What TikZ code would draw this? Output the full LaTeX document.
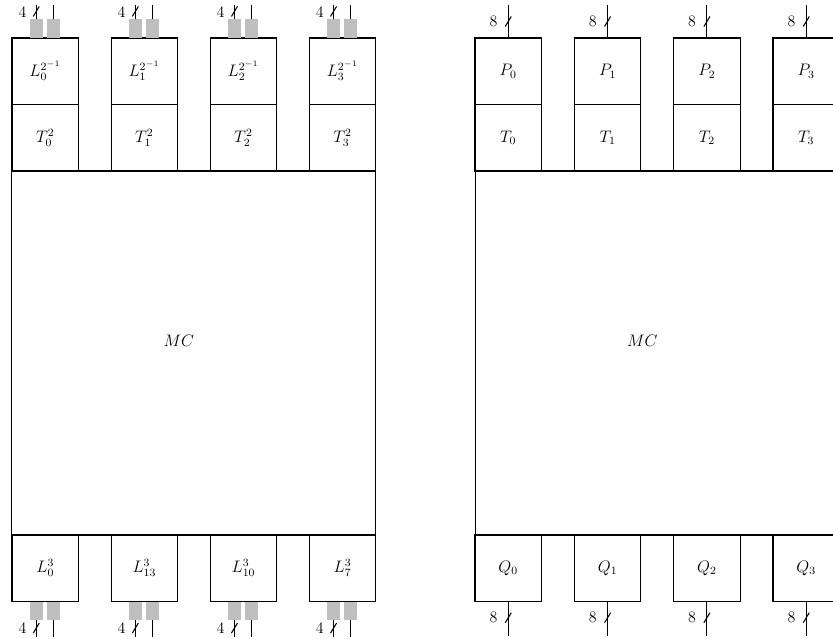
\documentclass[tikz,border=0pt]{standalone}
\usetikzlibrary{calc}
\begin{document}
\begin{tikzpicture}[x=0.72pt,y=-0.72pt,
  every node/.style={font=\fontsize{11.5}{14}\selectfont},
  box/.style={draw,line width=0.75pt,minimum width=47.9pt,minimum height=47.9pt,inner sep=0pt,outer sep=0pt},
  bigbox/.style={draw,line width=0.75pt,minimum width=262.4pt,minimum height=262.1pt,inner sep=0pt,outer sep=0pt},
  pad/.style={fill=black!25,minimum width=9.7pt,minimum height=13.2pt,inner sep=0pt,outer sep=0pt},
  wire/.style={line width=0.75pt},
  cnt/.style={left}]
\useasboundingbox (0,0) rectangle (833,639);
\clip (0,0) rectangle (833,639);
% ---------------- left diagram ----------------
\node[bigbox] (mcL) at (193.75,353) {};
\node (mcLt) at ($(mcL.center)+(-15,-12)$) {$MC$};
\foreach \i/\bl in {0/0,1/13,2/10,3/7}{
  \pgfmathsetmacro\cx{45.25+99.1*\i}
  \node[box] (Lt\i) at (\cx,71.25) {$L_{\i}^{2^{-1}}$};
  \node[box] (Tt\i) at (\cx,137.75) {$T_{\i}^2$};
  \node[box] (Lb\i) at (\cx,568.25) {$L_{\bl}^3$};
  % top pads and wires
  \node[pad] (pa\i) at (\cx-9,28.5) {};
  \node[pad] (qa\i) at (\cx+8,28.5) {};
  \coordinate (ea\i) at (\cx-9,5);
  \coordinate (fa\i) at (\cx+8,5);
  \draw[wire] (pa\i.north) -- (ea\i);
  \draw[wire] (qa\i.north) -- (fa\i);
  \draw[wire] ($(pa\i.north)!0.55!(ea\i)+(-3,5)$) -- ++(6,-10);
  \node[cnt] (na\i) at ($(pa\i.north)!0.5!(ea\i)+(-5,0)$) {4};
  % bottom pads and wires
  \node[pad] (pb\i) at (\cx-9,611) {};
  \node[pad] (qb\i) at (\cx+8,611) {};
  \coordinate (eb\i) at (\cx-9,637);
  \coordinate (fb\i) at (\cx+8,637);
  \draw[wire] (pb\i.south) -- (eb\i);
  \draw[wire] (qb\i.south) -- (fb\i);
  \draw[wire] ($(pb\i.south)!0.47!(eb\i)+(-3,5)$) -- ++(6,-10);
  \node[cnt] (nb\i) at ($(pb\i.south)!0.47!(eb\i)+(-5,0)$) {4};
}
% ---------------- right diagram ----------------
\node[bigbox] (mcR) at (657.25,353) {};
\node (mcRt) at ($(mcR.center)+(-15,-12)$) {$MC$};
\foreach \i in {0,1,2,3}{
  \pgfmathsetmacro\cx{508.25+99.33*\i}
  \node[box] (P\i) at (\cx,71.25) {$P_{\i}$};
  \node[box] (Ta\i) at (\cx,137.75) {$T_{\i}$};
  \node[box] (Q\i) at (\cx,568.25) {$Q_{\i}$};
  \coordinate (eP\i) at (\cx,5);
  \coordinate (eQ\i) at (\cx,636);
  \draw[wire] (P\i.north) -- (eP\i);
  \draw[wire] (Q\i.south) -- (eQ\i);
  \draw[wire] ($(P\i.north)!0.5!(eP\i)+(-3,5)$) -- ++(6,-10);
  \node[cnt] (nP\i) at ($(P\i.north)!0.5!(eP\i)+(-6,0)$) {8};
  \draw[wire] ($(Q\i.south)!0.47!(eQ\i)+(-3,5)$) -- ++(6,-10);
  \node[cnt] (nQ\i) at ($(Q\i.south)!0.47!(eQ\i)+(-6,0)$) {8};
}
\end{tikzpicture}
\end{document}
